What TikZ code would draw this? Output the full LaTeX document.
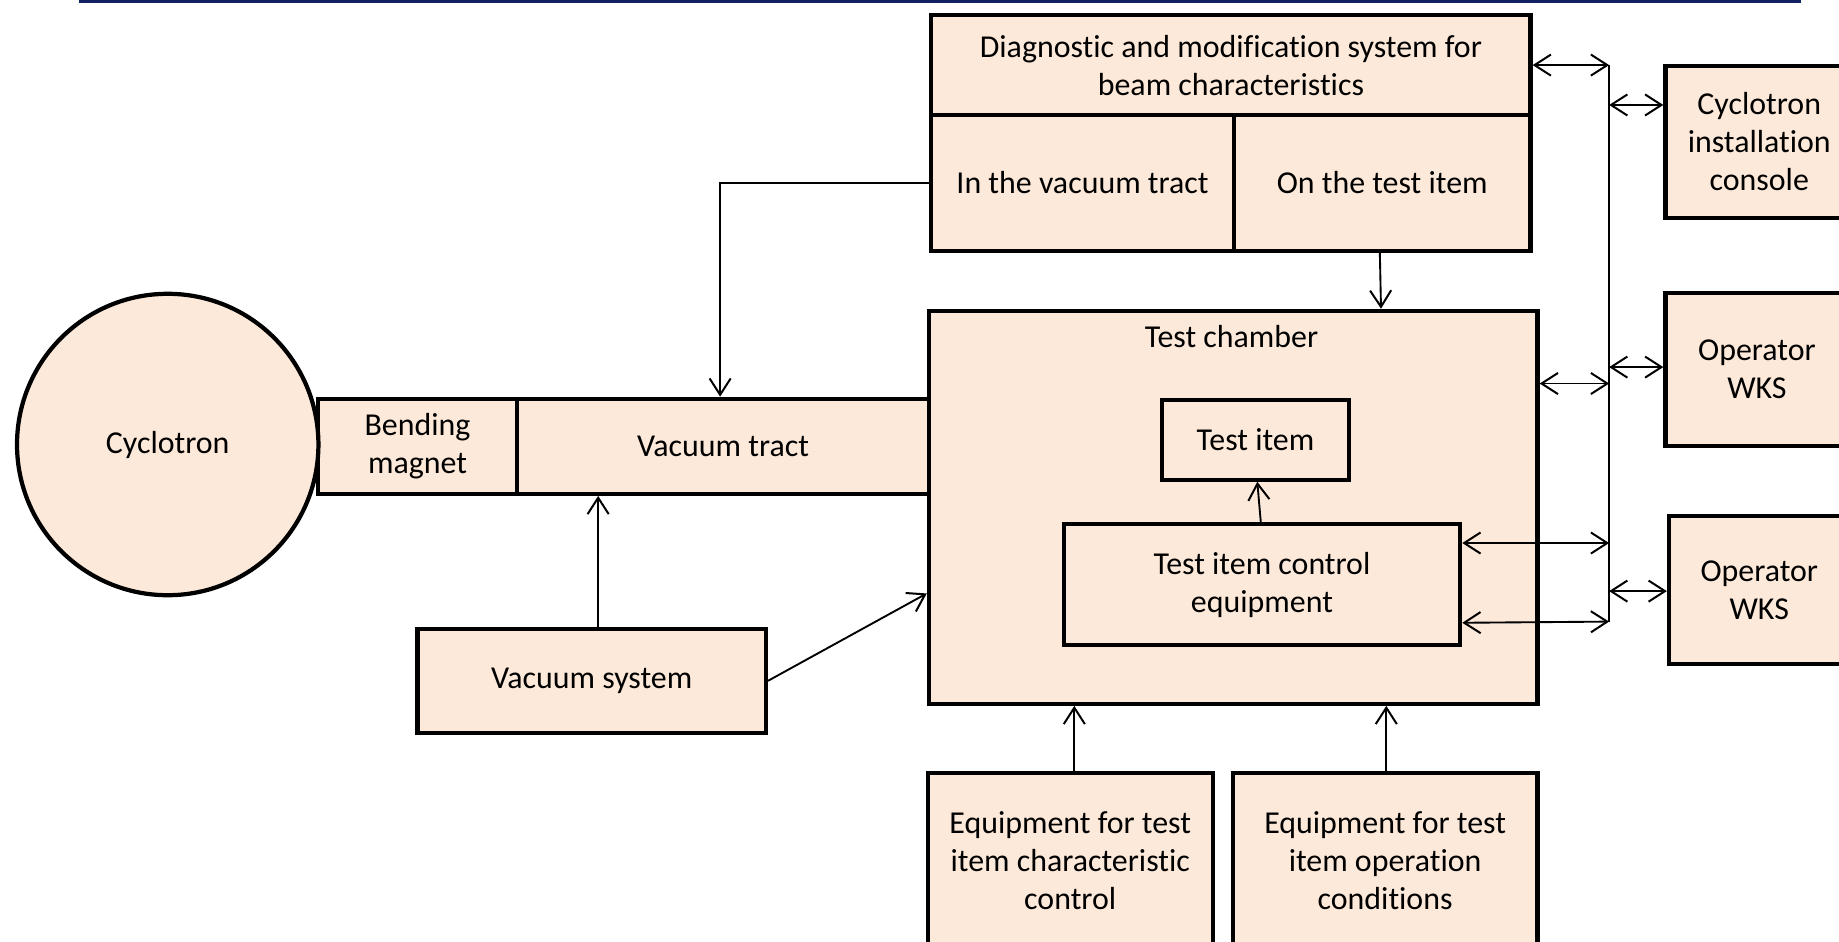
\documentclass[tikz,border=0pt]{standalone}
\usepackage{fontspec}
\setmainfont{Carlito}[Ligatures=NoCommon]
\usetikzlibrary{arrows.meta,calc}
\definecolor{boxfill}{RGB}{253,233,217}
\definecolor{navy}{RGB}{16,32,96}
\tikzset{
  blk/.style={draw=black, line width=1.8pt, fill=boxfill, inner sep=0pt, align=center,
    font=\fontsize{13.6}{16.2}\selectfont},
  lbl/.style={inner sep=0pt, align=center, font=\fontsize{13.6}{16.2}\selectfont},
  conn/.style={line width=0.8pt},
  arr/.style={conn, -{Straight Barb[length=7pt,width=9pt,line width=0.85pt]}},
  darr/.style={conn, {Straight Barb[length=7pt,width=9pt,line width=0.85pt]}-{Straight Barb[length=7pt,width=9pt,line width=0.85pt]}}
}
\begin{document}
\begin{tikzpicture}[x=0.5pt,y=-0.5pt]
\useasboundingbox (0,0) rectangle (1568,803);
\clip (0,0) rectangle (1568,803);
% top rule
\fill[navy] (67,-1) rectangle (1536,2.5);

% diagnostic system
\node[blk, minimum width=255.5pt, minimum height=42.5pt] (diagtop) at (1049.5,55.5)
  {Diagnostic and modification system for\\beam characteristics};
\node[blk, minimum width=129pt, minimum height=58pt] (vtdiag) at (923,156) {In the vacuum tract};
\node[blk, minimum width=126.5pt, minimum height=58pt] (ontest) at (1178.5,156) {On the test item};

% test chamber
\node[blk, minimum width=259.5pt, minimum height=167.5pt] (chamber) at (1051.5,432.5) {};
\node[lbl] (chlbl) at (1050,287) {Test chamber};
\node[blk, minimum width=79.5pt, minimum height=34pt] (testitem) at (1070.5,375) {Test item};
\node[blk, minimum width=169pt, minimum height=51.5pt] (ctrl) at (1076,498.5) {Test item control\\equipment};

% beam line
\node[blk, minimum width=85pt, minimum height=40.5pt] (bend) at (356,380.5) {Bending\\magnet};
\node[blk, minimum width=175.5pt, minimum height=40.5pt] (vtract) at (616.5,380.5) {Vacuum tract};
\node[blk, circle, minimum size=128.5pt] (cyc) at (143,379) {Cyclotron};
\node[blk, minimum width=148.5pt, minimum height=44.5pt] (vsys) at (504.5,580.5) {Vacuum system};

% bottom equipment
\node[blk, minimum width=121.5pt, minimum height=75pt] (eq1) at (912.5,734)
  {Equipment for test\\item characteristic\\control};
\node[blk, minimum width=130pt, minimum height=75pt] (eq2) at (1181,734)
  {Equipment for test\\item operation\\conditions};

% right side
\node[blk, minimum width=80pt, minimum height=65pt] (console) at (1500,121)
  {Cyclotron\\installation\\console};
\node[blk, minimum width=78pt, minimum height=65pt] (wks1) at (1498,315) {Operator\\WKS};
\node[blk, minimum width=77pt, minimum height=63pt] (wks2) at (1500,503) {Operator\\WKS};

% bus
\coordinate (bustop) at (1372,55.5);
\coordinate (busbot) at (1372,530);
\coordinate (b1) at (1372,89.5);
\coordinate (b2) at (1372,313);
\coordinate (b3) at (1372,327);
\coordinate (b4) at (1372,463);
\coordinate (b5) at (1372,530);
\coordinate (b6) at (1372,504);
\draw[conn] (bustop) -- (busbot);
\draw[darr] (diagtop.east) -- (diagtop.east -| bustop);
\draw[darr] (b1) -- (b1 -| console.west);
\draw[darr] (b2) -- (b2 -| wks1.west);
\draw[darr] (chamber.east |- b3) -- (b3);
\draw[darr] (ctrl.east |- b4) -- (b4);
\draw[darr] ($(ctrl.east |- b5)+(0,1)$) -- (b5);
\draw[darr] (b6) -- (b6 -| wks2.west);

% other connectors
\coordinate (bendpt) at (614,156);
\draw[arr] (vtdiag.west) -- (bendpt) -- (bendpt |- vtract.north);
\draw[arr] ($(ontest.south)+(-2,0)$) -- ($(ontest.south |- chamber.north)+(-1,0)$);
\draw[arr] ($(ctrl.north)+(-1,0)$) -- ($(testitem.south)+(1.5,0)$);
\draw[arr] ($(vsys.north)+(5.5,0)$) -- ($(vsys.north |- vtract.south)+(5.5,0)$);
\draw[arr] (vsys.east) -- ($(chamber.west)+(0,73.5)$);
\draw[arr] ($(eq1.north)+(3.5,0)$) -- ($(eq1.north |- chamber.south)+(3.5,0)$);
\draw[arr] ($(eq2.north)+(1,0)$) -- ($(eq2.north |- chamber.south)+(1,0)$);
\end{tikzpicture}
\end{document}
